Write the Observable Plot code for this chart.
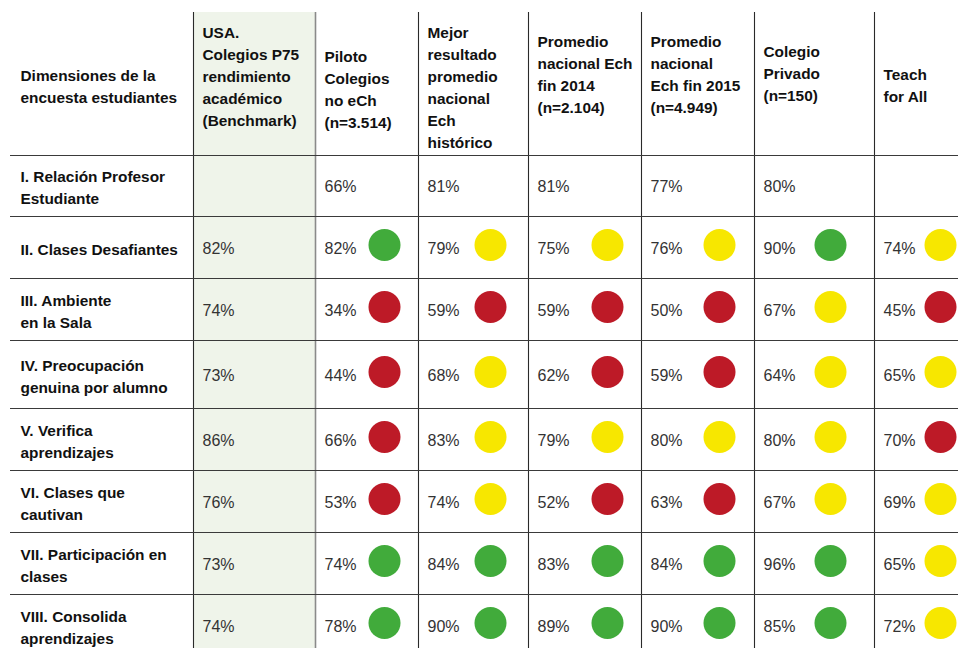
<!DOCTYPE html>
<html>
<head>
<meta charset="utf-8">
<script src="https://cdn.jsdelivr.net/npm/d3@7"></script>
<script src="https://cdn.jsdelivr.net/npm/@observablehq/plot@0.6"></script>
<style>
  html, body { margin: 0; padding: 0; background: #fff; }
  svg { display: block; }
</style>
</head>
<body>
<div id="chart"></div>
<script>
// ---------- DATA ----------
const encabezadoDimension = "Dimensiones de la\nencuesta estudiantes";
const grupos = [
  "USA.\nColegios P75\nrendimiento\nacadémico\n(Benchmark)",
  "Piloto\nColegios\nno eCh\n(n=3.514)",
  "Mejor\nresultado\npromedio\nnacional\nEch\nhistórico",
  "Promedio\nnacional Ech\nfin 2014\n(n=2.104)",
  "Promedio\nnacional\nEch fin 2015\n(n=4.949)",
  "Colegio\nPrivado\n(n=150)",
  "Teach\nfor All"
];
const dimensiones = [
  "I. Relación Profesor\nEstudiante",
  "II. Clases Desafiantes",
  "III. Ambiente\nen la Sala",
  "IV. Preocupación\ngenuina por alumno",
  "V. Verifica\naprendizajes",
  "VI. Clases que\ncautivan",
  "VII. Participación en\nclases",
  "VIII. Consolida\naprendizajes"
];
const usaP75   = [null, 82, 74, 73, 86, 76, 73, 74];
const piloto   = [66, 82, 34, 44, 66, 53, 74, 78];
const mejor    = [81, 79, 59, 68, 83, 74, 84, 90];
const prom2014 = [81, 75, 59, 62, 79, 52, 83, 89];
const prom2015 = [77, 76, 50, 59, 80, 63, 84, 90];
const privado  = [80, 90, 67, 64, 80, 67, 96, 85];
const teach    = [null, 74, 45, 65, 70, 69, 65, 72];

const estadoPiloto   = [null, "verde", "rojo", "rojo", "rojo", "rojo", "verde", "verde"];
const estadoMejor    = [null, "amarillo", "rojo", "amarillo", "amarillo", "amarillo", "verde", "verde"];
const estado2014     = [null, "amarillo", "rojo", "rojo", "amarillo", "rojo", "verde", "verde"];
const estado2015     = [null, "amarillo", "rojo", "rojo", "amarillo", "rojo", "verde", "verde"];
const estadoPrivado  = [null, "verde", "amarillo", "amarillo", "amarillo", "amarillo", "verde", "verde"];
const estadoTeach    = [null, "amarillo", "rojo", "amarillo", "rojo", "amarillo", "amarillo", "amarillo"];

const estados = ["verde", "amarillo", "rojo"];
const coloresEstado = ["#41ab3b", "#f7e700", "#bd1a27"];

// ---------- LAYOUT ----------
const W = 958, H = 648;
const colEdges = [10, 193, 315, 418, 528, 641, 754, 874, 958];
const rowEdges = [155, 216, 278, 340, 408, 470, 532, 594, 656];
const tableTop = 12;
const dotOffset = [null, 69, 72, 79, 78, 76, 66];
const headerY = [84, 74, 87, 85, 72, 72, 71, 83];

// ---------- BUILD ----------
const columnas = [usaP75, piloto, mejor, prom2014, prom2015, privado, teach];
const columnasEstado = [null, estadoPiloto, estadoMejor, estado2014, estado2015, estadoPrivado, estadoTeach];
const celdas = [];
columnas.forEach((vals, c) => vals.forEach((v, r) => {
  if (v != null) celdas.push({c, r, v, estado: columnasEstado[c] ? columnasEstado[c][r] : null});
}));
const rowCenter = r => (rowEdges[r] + rowEdges[r + 1]) / 2;
const encabezados = [encabezadoDimension, ...grupos];

const font = "'Liberation Sans', Arial, Helvetica, sans-serif";

const chart = Plot.plot({
  width: W,
  height: H,
  margin: 0,
  style: {fontFamily: font, background: "#fff"},
  x: {type: "identity", axis: null},
  y: {type: "identity", axis: null},
  color: {domain: estados, range: coloresEstado},
  marks: [
    // benchmark column shading
    Plot.rect([grupos[0]], {x1: colEdges[1], x2: colEdges[2], y1: tableTop, y2: H, fill: "#eff4ea"}),
    // vertical lines
    Plot.ruleX(colEdges.slice(1, 8), {y1: tableTop, y2: H, stroke: (d, i) => i === 1 ? "#8a8a8a" : "#2a2a2a", strokeWidth: (d, i) => i === 1 ? 1.6 : 1.1}),
    // horizontal lines
    Plot.ruleY(rowEdges, {x1: colEdges[0], x2: W, stroke: "#3a3a3a", strokeWidth: 1.1}),
    // headers
    Plot.text(encabezados, {
      x: (d, i) => i === 0 ? colEdges[0] + 10 : colEdges[i] + 9,
      y: (d, i) => headerY[i],
      text: d => d,
      textAnchor: "start", lineAnchor: "middle", lineHeight: 1.43,
      fontSize: 15.4, fontWeight: "bold", fill: "#111"
    }),
    // row labels
    Plot.text(dimensiones, {
      x: colEdges[0] + 10,
      y: (d, i) => rowCenter(i),
      text: d => d,
      textAnchor: "start", lineAnchor: "middle", lineHeight: 1.43,
      fontSize: 15.4, fontWeight: "bold", fill: "#111"
    }),
    // values
    Plot.text(celdas, {
      x: d => colEdges[d.c + 1] + 9,
      y: d => rowCenter(d.r) + 1,
      text: d => d.v + "%",
      textAnchor: "start", lineAnchor: "middle",
      fontSize: 16, fill: "#333"
    }),
    // status dots
    Plot.dot(celdas.filter(d => d.estado), {
      x: d => colEdges[d.c + 1] + dotOffset[d.c],
      y: d => rowCenter(d.r) - 2.5,
      r: 16,
      fill: "estado"
    })
  ]
});
document.getElementById("chart").append(chart);
</script>
</body>
</html>
